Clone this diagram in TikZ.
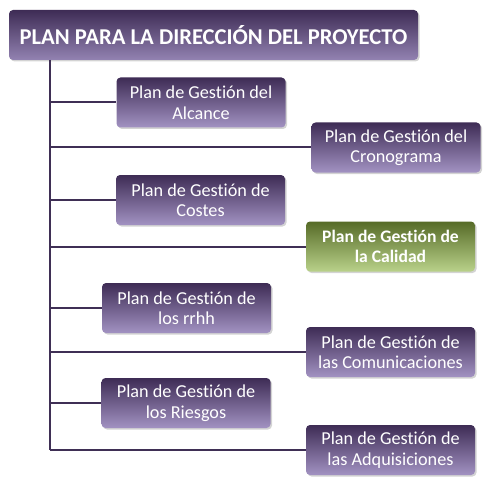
\documentclass[tikz,border=0pt]{standalone}
\usepackage{fontspec}
\setmainfont{Carlito}[Ligatures=NoCommon]
\usepackage{tikz}
\usetikzlibrary{shadows}
\definecolor{purpletop}{HTML}{3E2C55}
\definecolor{purplemid}{HTML}{554470}
\definecolor{purplebot}{HTML}{A292C2}
\definecolor{greentop}{HTML}{566B27}
\definecolor{greenmid}{HTML}{748C3E}
\definecolor{greenbot}{HTML}{B9D18A}
\definecolor{spinecol}{HTML}{3F2F55}
\tikzset{
	planbox/.style={rounded corners=4pt, minimum width=169pt, minimum height=50pt,
		top color=purpletop, middle color=purplemid, bottom color=purplebot,
		draw=none, text=white, align=center, font=\fontsize{18.2}{20.5}\selectfont,
		drop shadow={shadow xshift=1.5pt, shadow yshift=-1.5pt, opacity=0.35}},
	calidadbox/.style={planbox, top color=greentop, middle color=greenmid, bottom color=greenbot,
		font=\fontsize{17.6}{20.5}\selectfont\bfseries},
	titlebox/.style={planbox, minimum width=409pt, minimum height=50pt,
		bottom color=purplebot!80!purplemid, font=\fontsize{22.6}{26}\selectfont\bfseries},
	branch/.style={draw=spinecol, line width=2pt}
}

\begin{document}
\begin{tikzpicture}[x=1pt, y=-1pt]
		%%%%% START %%%%%
		\useasboundingbox (0, 0) rectangle (492, 497);
		
		\node[titlebox] (direccion) at (213.5, 35) {PLAN PARA LA DIRECCIÓN DEL PROYECTO};
		
		\node[planbox] (alcance) at (201, 102.5) {Plan de Gestión del\\Alcance};
		\node[planbox] (cronograma) at (396, 147.5) {Plan de Gestión del\\Cronograma};
		\node[planbox] (costes) at (200.5, 200) {Plan de Gestión de\\Costes};
		\node[calidadbox] (calidad) at (390.5, 246.5) {Plan de Gestión de\\la Calidad};
		\node[planbox] (rrhh) at (186.5, 308) {Plan de Gestión de\\los rrhh};
		\node[planbox] (comunicaciones) at (390.5, 352) {Plan de Gestión de\\las Comunicaciones};
		\node[planbox] (riesgos) at (186, 403) {Plan de Gestión de\\los Riesgos};
		\node[planbox] (adquisiciones) at (390.5, 450) {Plan de Gestión de\\las Adquisiciones};
		
		\coordinate (spinetop) at (50, 60);
		\coordinate (spinebot) at (50, 450);
		\draw[branch] (spinetop) -- (spinebot);
		
		\foreach \plan in {alcance, cronograma, costes, calidad, rrhh, comunicaciones, riesgos, adquisiciones}
			\draw[branch] (\plan.west -| spinetop) -- (\plan.west);
		%%%%% END %%%%%
\end{tikzpicture}
\end{document}
